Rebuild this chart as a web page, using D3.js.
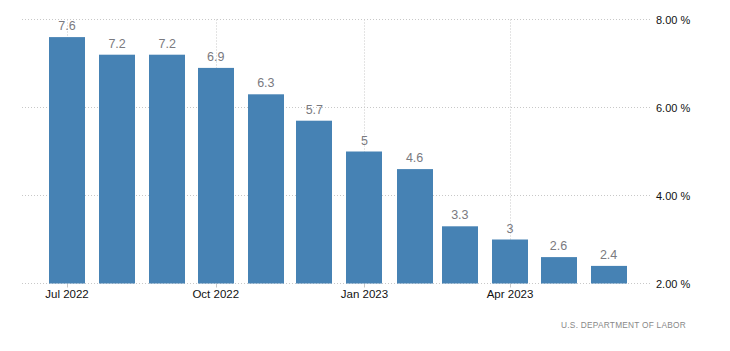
<!DOCTYPE html>
<html><head><meta charset="utf-8">
<script src="https://cdn.jsdelivr.net/npm/d3@7"></script>
<style>body{margin:0;background:#fff}svg{display:block}</style>
</head><body>
<svg id="c" width="730" height="351"></svg>
<script>
const months = ["2022-07","2022-08","2022-09","2022-10","2022-11","2022-12","2023-01","2023-02","2023-03","2023-04","2023-05","2023-06"];
const values = [7.6,7.2,7.2,6.9,6.3,5.7,5,4.6,3.3,3,2.6,2.4];
const xTicks = ["2022-07","2022-10","2023-01","2023-04"];
const xTickLabels = ["Jul 2022","Oct 2022","Jan 2023","Apr 2023"];
const yTicks = [2,4,6,8];
const source = "U.S. DEPARTMENT OF LABOR";

const parse = d3.timeParse("%Y-%m");
const svg = d3.select("#c");
const L = 22, R = 652;
const x = d3.scaleTime().domain([parse("2022-07"), parse("2023-04")]).range([67, 510]);
const y = d3.scaleLinear().domain([2, 8]).range([283.5, 19.5]);
const bw = 36;
const font = "'Liberation Sans', Arial, sans-serif";

// horizontal grid
svg.append("g").selectAll("line").data(yTicks).join("line")
  .attr("x1", L).attr("x2", R).attr("y1", d => y(d)).attr("y2", d => y(d))
  .attr("stroke", "#c8c8c8").attr("stroke-dasharray", "1,2");
// vertical grid
svg.append("g").selectAll("line").data(xTicks).join("line")
  .attr("x1", d => Math.round(x(parse(d))) + 0.5).attr("x2", d => Math.round(x(parse(d))) + 0.5)
  .attr("y1", y(8)).attr("y2", y(2))
  .attr("stroke", "#c8c8c8").attr("stroke-dasharray", "1,2");
// tick marks
svg.append("g").selectAll("line").data(xTicks).join("line")
  .attr("x1", d => Math.round(x(parse(d))) + 0.5).attr("x2", d => Math.round(x(parse(d))) + 0.5)
  .attr("y1", y(2)).attr("y2", y(2) + 4)
  .attr("stroke", "#c8c8c8");

// bars
svg.append("g").selectAll("rect").data(values).join("rect")
  .attr("x", (d, i) => Math.round(x(parse(months[i])) - bw / 2))
  .attr("width", bw)
  .attr("y", d => y(d))
  .attr("height", d => y(2) - y(d))
  .attr("fill", "#4682b4");

// value labels
svg.append("g").selectAll("text").data(values).join("text")
  .attr("x", (d, i) => x(parse(months[i])))
  .attr("y", d => y(d) - 7)
  .attr("text-anchor", "middle")
  .attr("font-family", font).attr("font-size", 12.5)
  .attr("fill", "#7a7a80")
  .text(d => d);

// x labels
svg.append("g").selectAll("text").data(xTicks).join("text")
  .attr("x", d => x(parse(d)))
  .attr("y", 298)
  .attr("text-anchor", "middle")
  .attr("font-family", font).attr("font-size", 11.5)
  .attr("fill", "#111")
  .text((d, i) => xTickLabels[i]);

// y labels
svg.append("g").selectAll("text").data(yTicks).join("text")
  .attr("x", 656)
  .attr("y", d => y(d) + 4)
  .attr("font-family", font).attr("font-size", 11)
  .attr("fill", "#111")
  .text(d => d3.format(".2f")(d) + " %");

// source
svg.append("text")
  .attr("x", 686).attr("y", 328)
  .attr("text-anchor", "end")
  .attr("font-family", font).attr("font-size", 8.3)
  .attr("letter-spacing", 0.25)
  .attr("fill", "#888")
  .text(source);
</script>
</body></html>
